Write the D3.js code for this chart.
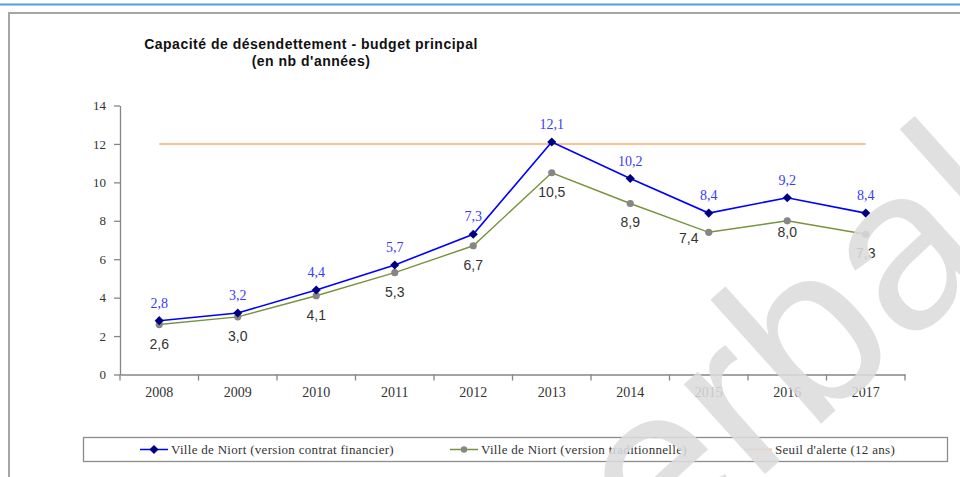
<!DOCTYPE html>
<html>
<head>
<meta charset="utf-8">
<script src="https://cdn.jsdelivr.net/npm/d3@7"></script>
<style>
  body { margin: 0; background: #fff; }
  svg { display: block; }
</style>
</head>
<body>
<script>
const years = ["2008", "2009", "2010", "2011", "2012", "2013", "2014", "2015", "2016", "2017"];
const contrat = [2.8, 3.2, 4.4, 5.7, 7.3, 12.1, 10.2, 8.4, 9.2, 8.4];
const traditionnelle = [2.6, 3.0, 4.1, 5.3, 6.7, 10.5, 8.9, 7.4, 8.0, 7.3];
const seuil = 12;
const yTicks = [0, 2, 4, 6, 8, 10, 12, 14];
const legendLabels = [
  "Ville de Niort (version contrat financier)",
  "Ville de Niort (version traditionnelle)",
  "Seuil d'alerte (12 ans)"
];

const w = 960;
const h = 477;

const fr = d3.formatLocale({ decimal: ",", thousands: " ", grouping: [3], currency: ["", " €"] });
const fmt = fr.format(".1f");

const svg = d3.select("body").append("svg").attr("width", w).attr("height", h);

// page frame
svg.append("line").attr("x1", 0).attr("x2", w).attr("y1", 4.5).attr("y2", 4.5)
  .attr("stroke", "#4a9df0").attr("stroke-width", 2);
svg.append("path").attr("d", `M9,${h} V13 H${w}`)
  .attr("fill", "none").attr("stroke", "#a6a6a6").attr("stroke-width", 2);

// title
const title = svg.append("text").attr("x", 311).attr("y", 49)
  .attr("text-anchor", "middle")
  .style("font-family", "Arial, 'Liberation Sans', sans-serif")
  .style("font-weight", "bold").style("font-size", "14px")
  .style("letter-spacing", "0.5px").style("fill", "#111");
title.append("tspan").attr("x", 311).text("Capacité de désendettement - budget principal");
title.append("tspan").attr("x", 311).attr("dy", 17).text("(en nb d'années)");

const x = d3.scaleBand().domain(years).range([120, 905]);
const y = d3.scaleLinear().domain([0, 14]).range([374.5, 105.5]);
const cx = (d) => x(d) + x.bandwidth() / 2;

const serif = "'Times New Roman', 'Liberation Serif', serif";
const sans = "Arial, 'Liberation Sans', sans-serif";

// y axis
const yAxis = svg.append("g").attr("transform", "translate(120,0)")
  .call(d3.axisLeft(y).tickValues(yTicks).tickSize(6).tickSizeOuter(0).tickPadding(8));
yAxis.selectAll("path, line").attr("stroke", "#868686").attr("stroke-width", 1.3);
yAxis.selectAll("text").style("font-family", serif).style("font-size", "13px").style("fill", "#333");

// x axis (ticks between categories)
const xAxis = svg.append("g").attr("transform", `translate(0,${y(0)})`)
  .call(d3.axisBottom(x).tickSize(0).tickSizeOuter(0).tickPadding(13));
xAxis.select(".domain").attr("stroke", "#868686").attr("stroke-width", 1.3);
xAxis.selectAll("text").style("font-family", serif).style("font-size", "14px").style("fill", "#333");
xAxis.selectAll("line.sep")
  .data(years.map((d) => x(d)).concat([x.range()[1]]))
  .enter().append("line").attr("class", "sep")
  .attr("x1", (d) => d).attr("x2", (d) => d).attr("y1", 0).attr("y2", 6)
  .attr("stroke", "#868686").attr("stroke-width", 1.3);

// alert threshold
svg.append("line")
  .attr("x1", cx(years[0])).attr("x2", cx(years[years.length - 1]))
  .attr("y1", y(seuil)).attr("y2", y(seuil))
  .attr("stroke", "#fac191").attr("stroke-width", 2);

// lines
const line = (vals) => d3.line().x((d, i) => cx(years[i])).y((d) => y(d))(vals);

svg.append("path").attr("d", line(traditionnelle))
  .attr("fill", "none").attr("stroke", "#77933c").attr("stroke-width", 1.4);
svg.append("path").attr("d", line(contrat))
  .attr("fill", "none").attr("stroke", "#0000ff").attr("stroke-width", 1.6);

// markers
svg.selectAll("circle.trad").data(traditionnelle).enter().append("circle")
  .attr("class", "trad")
  .attr("cx", (d, i) => cx(years[i])).attr("cy", (d) => y(d)).attr("r", 3.6)
  .attr("fill", "#868686");

const diamond = d3.symbol(d3.symbolSquare, 42);
svg.selectAll("path.ctr").data(contrat).enter().append("path")
  .attr("class", "ctr").attr("d", diamond)
  .attr("transform", (d, i) => `translate(${cx(years[i])},${y(d)}) rotate(45)`)
  .attr("fill", "#000080");

// data labels
svg.selectAll("text.lc").data(contrat).enter().append("text")
  .attr("class", "lc")
  .attr("x", (d, i) => cx(years[i])).attr("y", (d) => y(d) - 13)
  .attr("text-anchor", "middle")
  .style("font-family", serif).style("font-size", "14px").style("fill", "#3a3aff")
  .text((d) => fmt(d));

// a couple of labels were nudged in the original
const nudge = { "2015": [-20, -13], "2016": [0, -8] };
svg.selectAll("text.lt").data(traditionnelle).enter().append("text")
  .attr("class", "lt")
  .attr("x", (d, i) => cx(years[i]) + (nudge[years[i]] ? nudge[years[i]][0] : 0))
  .attr("y", (d, i) => y(d) + 24 + (nudge[years[i]] ? nudge[years[i]][1] : 0))
  .attr("text-anchor", "middle")
  .style("font-family", sans).style("font-size", "14px").style("fill", "#333")
  .text((d) => fmt(d));

// legend
const lg = svg.append("g");
lg.append("rect").attr("x", 83.5).attr("y", 437.5).attr("width", 864).attr("height", 24)
  .attr("fill", "#fff").attr("stroke", "#8c8c8c").attr("stroke-width", 1.3);
const legendX = [140, 450, 744];
const legendColors = ["#0000ff", "#77933c", "#fac191"];
const ly = 449.5;
legendLabels.forEach((label, i) => {
  lg.append("line").attr("x1", legendX[i]).attr("x2", legendX[i] + 28)
    .attr("y1", ly).attr("y2", ly)
    .attr("stroke", legendColors[i]).attr("stroke-width", i === 2 ? 2 : 1.5);
  if (i === 0) {
    lg.append("path").attr("d", diamond)
      .attr("transform", `translate(${legendX[i] + 14},${ly}) rotate(45)`).attr("fill", "#000080");
  } else if (i === 1) {
    lg.append("circle").attr("cx", legendX[i] + 14).attr("cy", ly).attr("r", 3.2).attr("fill", "#868686");
  }
  lg.append("text").attr("x", legendX[i] + 31).attr("y", ly + 4)
    .style("font-family", serif).style("font-size", "13px")
    .style("letter-spacing", "0.3px").style("fill", "#333")
    .text(label);
});

// watermark
svg.append("text")
  .attr("transform", "translate(1037,229) rotate(-42)")
  .attr("text-anchor", "end")
  .style("font-family", sans).style("font-size", "229px")
  .style("fill", "#dcdcdc").style("opacity", 0.88)
  .text("verbal");
</script>
</body>
</html>
